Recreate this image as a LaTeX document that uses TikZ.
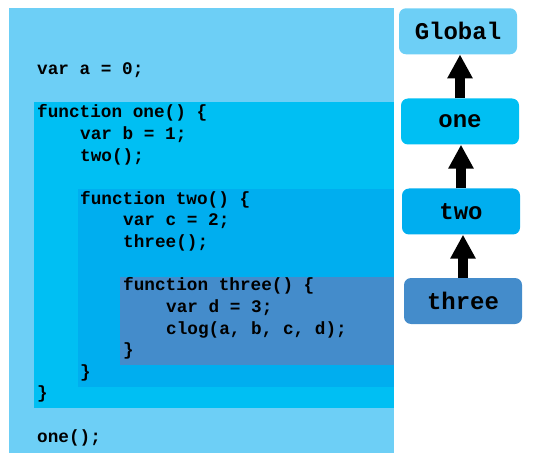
\documentclass[tikz,border=0pt]{standalone}
\usepackage{fontspec}
\setmonofont{Liberation Mono}
\usetikzlibrary{arrows.meta}
\definecolor{cglobal}{HTML}{6DCFF6}
\definecolor{cone}{HTML}{00BFF3}
\definecolor{ctwo}{HTML}{00AEEF}
\definecolor{cthree}{HTML}{448CCB}
\tikzset{
  code/.style={anchor=base west, inner sep=0pt, font=\fontsize{17.7}{21.6}\selectfont\ttfamily\bfseries},
  scopebox/.style={rounded corners=7pt, minimum width=118pt, minimum height=46pt, inner sep=0pt,
    font=\fontsize{24}{28}\selectfont\ttfamily\bfseries},
  chain/.style={line width=10pt, -{Triangle[width=24pt,length=24pt]}}
}
\begin{document}
\begin{tikzpicture}[x=1pt,y=-1pt]
\useasboundingbox (0,0) rectangle (535,462);
% nested scope regions
\fill[cglobal] (9,8) rectangle (394,453);
\fill[cone] (34,102) rectangle (394,408);
\fill[ctwo] (78,189) rectangle (394,387);
\fill[cthree] (120,277) rectangle (394,365);
% code lines
\def\bl#1{118+21.6*#1}
\node[code] (la) at (37,{118-2*21.6}) {var a = 0;};
\node[code] (l0) at (37,{\bl{0}}) {function one() \{};
\node[code] (l1) at (80,{\bl{1}}) {var b = 1;};
\node[code] (l2) at (80,{\bl{2}}) {two();};
\node[code] (l4) at (80,{\bl{4}}) {function two() \{};
\node[code] (l5) at (123,{\bl{5}}) {var c = 2;};
\node[code] (l6) at (123,{\bl{6}}) {three();};
\node[code] (l8) at (123,{\bl{8}}) {function three() \{};
\node[code] (l9) at (166,{\bl{9}}) {var d = 3;};
\node[code] (l10) at (166,{\bl{10}}) {clog(a, b, c, d);};
\node[code] (l11) at (123,{\bl{11}}) {\}};
\node[code] (l12) at (80,{\bl{12}}) {\}};
\node[code] (l13) at (37,{\bl{13}}) {\}};
\node[code] (l15) at (37,{\bl{15}}) {one();};
% scope chain
\node[scopebox, fill=cglobal] (G) at (458,31.3) {Global};
\node[scopebox, fill=cone] (one) at (460,121.5) {one};
\node[scopebox, fill=ctwo] (two) at (461,211.5) {two};
\node[scopebox, fill=cthree] (three) at (463,301) {three};
\draw[chain] (one.north) -- (one.north |- G.south);
\draw[chain] (two.north) -- (two.north |- one.south);
\draw[chain] (three.north) -- (three.north |- two.south);
\end{tikzpicture}
\end{document}
